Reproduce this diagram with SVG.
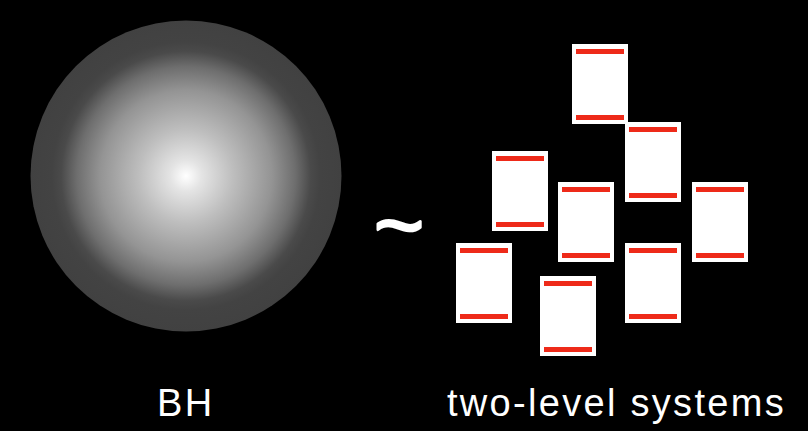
<svg xmlns="http://www.w3.org/2000/svg" width="808" height="431" viewBox="0 0 808 431">
<defs>
<radialGradient id="bhGrad" cx="186" cy="176" r="156" gradientUnits="userSpaceOnUse">
<stop offset="0" stop-color="#ffffff"/>
<stop offset="0.1" stop-color="#e4e4e4"/>
<stop offset="0.3" stop-color="#bebebe"/>
<stop offset="0.55" stop-color="#949494"/>
<stop offset="0.7" stop-color="#6e6e6e"/>
<stop offset="0.8" stop-color="#4a4a4a"/>
<stop offset="0.86" stop-color="#434343"/>
<stop offset="1" stop-color="#414141"/>
</radialGradient>
<g id="tls">
<rect x="0" y="0" width="56" height="80" fill="#ffffff"/>
<rect x="4" y="5" width="48" height="5" fill="#ee2a19"/>
<rect x="4" y="71" width="48" height="5" fill="#ee2a19"/>
</g>
</defs>
<style>
.lbl { font-family: "Liberation Sans", Arial, sans-serif; font-size: 38px; fill: #ffffff; letter-spacing: 2.3px; }
.tilde { font-family: "Liberation Sans", Arial, sans-serif; font-size: 86px; fill: #ffffff; stroke: #ffffff; stroke-width: 2.6px; stroke-linejoin: round; }
</style>
<rect x="0" y="0" width="808" height="431" fill="#000000"/>
<g id="bh">
<circle cx="186" cy="176" r="155.5" fill="url(#bhGrad)"/>
<text class="lbl" x="157" y="416">BH</text>
</g>
<g id="tilde">
<text class="tilde" x="399" y="254" text-anchor="middle">~</text>
</g>
<g id="systems">
<use id="tls1" href="#tls" x="572" y="44"/>
<use id="tls2" href="#tls" x="625" y="122"/>
<use id="tls3" href="#tls" x="492" y="151"/>
<use id="tls4" href="#tls" x="558" y="182"/>
<use id="tls5" href="#tls" x="692" y="182"/>
<use id="tls6" href="#tls" x="456" y="243"/>
<use id="tls7" href="#tls" x="625" y="243"/>
<use id="tls8" href="#tls" x="540" y="276"/>
<text class="lbl" x="447" y="416">two-level systems</text>
</g>
<g id="connectors"/>
</svg>
